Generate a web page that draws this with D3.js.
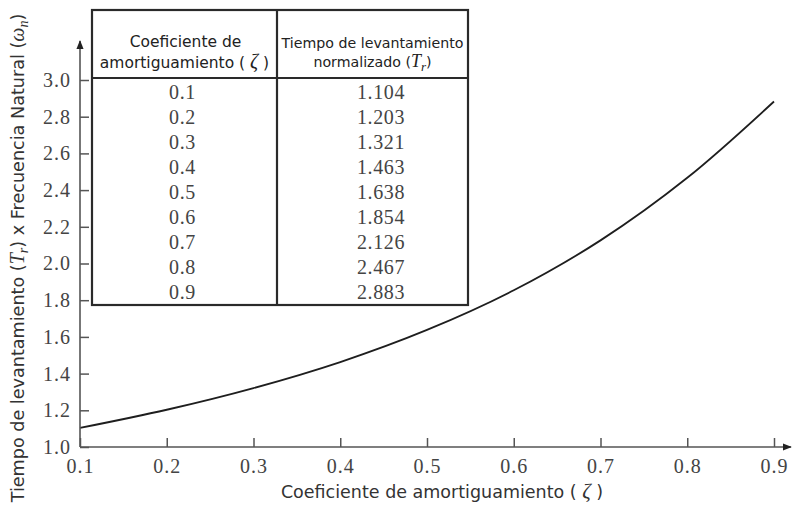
<!DOCTYPE html>
<html>
<head>
<meta charset="utf-8">
<script src="https://cdn.jsdelivr.net/npm/d3@7"></script>
<style>
  html, body { margin: 0; padding: 0; background: #fff; }
  svg { display: block; }
</style>
</head>
<body>
<svg id="chart" width="792" height="509"></svg>
<script>
// Damping ratio and normalized rise time (second-order system)
const zetas = [0.1, 0.2, 0.3, 0.4, 0.5, 0.6, 0.7, 0.8, 0.9];
const riseTimes = [1.104, 1.203, 1.321, 1.463, 1.638, 1.854, 2.126, 2.467, 2.883];
const xTicks = [0.1, 0.2, 0.3, 0.4, 0.5, 0.6, 0.7, 0.8, 0.9];
const yTicks = [1.0, 1.2, 1.4, 1.6, 1.8, 2.0, 2.2, 2.4, 2.6, 2.8, 3.0];

const svg = d3.select("#chart");
const serif = "'Liberation Serif', 'Times New Roman', serif";
const sans = "'DejaVu Sans', Verdana, sans-serif";

const x = d3.scaleLinear().domain([0.1, 0.9]).range([80, 774]);
const y = d3.scaleLinear().domain([1.0, 3.0]).range([447, 80]);

// Arrow marker for axis ends
const defs = svg.append("defs");
defs.append("marker")
  .attr("id", "arrow")
  .attr("viewBox", "0 0 10 10")
  .attr("refX", 9).attr("refY", 5)
  .attr("markerWidth", 9).attr("markerHeight", 9)
  .attr("markerUnits", "userSpaceOnUse")
  .attr("orient", "auto")
  .append("path")
  .attr("d", "M0,1 L10,5 L0,9 Z")
  .attr("fill", "#222");

// Curve
const line = d3.line()
  .x((d, i) => x(zetas[i]))
  .y(d => y(d))
  .curve(d3.curveCatmullRom.alpha(0.5));

svg.append("path")
  .datum(riseTimes)
  .attr("d", line)
  .attr("fill", "none")
  .attr("stroke", "#1e1e1e")
  .attr("stroke-width", 1.8);

// Axes with inward ticks
const xAxis = d3.axisBottom(x).tickValues(xTicks).tickSize(-9).tickPadding(12)
  .tickFormat(d3.format(".1f"));
const yAxis = d3.axisLeft(y).tickValues(yTicks).tickSize(-9).tickPadding(8)
  .tickFormat(d3.format(".1f"));

const gx = svg.append("g").attr("transform", `translate(0,${y(1.0)})`).call(xAxis);
const gy = svg.append("g").attr("transform", `translate(${x(0.1)},0)`).call(yAxis);

[gx, gy].forEach(g => {
  g.select(".domain").remove();
  g.selectAll(".tick line").attr("stroke", "#555").attr("stroke-width", 1.5);
  g.selectAll(".tick text")
    .attr("font-family", serif)
    .attr("font-size", 20)
    .attr("letter-spacing", 1)
    .attr("fill", "#444");
});
gx.selectAll(".tick text").attr("dy", "0.68em");
gy.selectAll(".tick text").attr("dx", "-1");

// Axis lines with arrowheads
svg.append("line")
  .attr("x1", x(0.1)).attr("y1", y(1.0))
  .attr("x2", 791).attr("y2", y(1.0))
  .attr("stroke", "#555").attr("stroke-width", 1.6)
  .attr("marker-end", "url(#arrow)");
svg.append("line")
  .attr("x1", x(0.1)).attr("y1", y(1.0))
  .attr("x2", x(0.1)).attr("y2", 41)
  .attr("stroke", "#555").attr("stroke-width", 1.6)
  .attr("marker-end", "url(#arrow)");

// Axis titles
const xt = svg.append("text")
  .attr("x", 442).attr("y", 498)
  .attr("text-anchor", "middle")
  .attr("font-family", sans).attr("font-size", 17.5).attr("fill", "#333");
xt.append("tspan").text("Coeficiente de amortiguamiento ( ");
xt.append("tspan").attr("font-family", serif).attr("font-style", "italic").attr("font-size", 21).text("ζ");
xt.append("tspan").text(" )");

const yt = svg.append("text")
  .attr("transform", "translate(24,258) rotate(-90)")
  .attr("text-anchor", "middle")
  .attr("font-family", sans).attr("font-size", 17.6).attr("fill", "#333");
yt.append("tspan").text("Tiempo de levantamiento (");
yt.append("tspan").attr("font-family", serif).attr("font-style", "italic").attr("font-size", 20).text("T");
yt.append("tspan").attr("font-family", serif).attr("font-style", "italic").attr("font-size", 14).attr("dy", 4).text("r");
yt.append("tspan").attr("dy", -4).text(") x Frecuencia Natural (");
yt.append("tspan").attr("font-family", serif).attr("font-style", "italic").attr("font-size", 20).text("ω");
yt.append("tspan").attr("font-family", serif).attr("font-style", "italic").attr("font-size", 14).attr("dy", 4).text("n");
yt.append("tspan").attr("dy", -4).text(")");

// Data table
const tbl = { left: 92, mid: 277, right: 468, top: 10, head: 78, bottom: 305 };
const tg = svg.append("g");
tg.append("rect")
  .attr("x", tbl.left).attr("y", tbl.top)
  .attr("width", tbl.right - tbl.left).attr("height", tbl.bottom - tbl.top)
  .attr("fill", "#fff").attr("stroke", "#2a2a2a").attr("stroke-width", 2.2);
tg.append("line")
  .attr("x1", tbl.left).attr("x2", tbl.right).attr("y1", tbl.head).attr("y2", tbl.head)
  .attr("stroke", "#2a2a2a").attr("stroke-width", 2.2);
tg.append("line")
  .attr("x1", tbl.mid).attr("x2", tbl.mid).attr("y1", tbl.top).attr("y2", tbl.bottom)
  .attr("stroke", "#2a2a2a").attr("stroke-width", 2.2);

const leftC = (tbl.left + tbl.mid) / 2;
const rightC = (tbl.mid + tbl.right) / 2;

tg.append("text").attr("x", leftC + 1).attr("y", 47)
  .attr("text-anchor", "middle").attr("font-family", sans).attr("font-size", 15.5).attr("fill", "#222")
  .text("Coeficiente de");
const h2 = tg.append("text").attr("x", leftC).attr("y", 68)
  .attr("text-anchor", "middle").attr("font-family", sans).attr("font-size", 15.5).attr("fill", "#222");
h2.append("tspan").text("amortiguamiento ( ");
h2.append("tspan").attr("font-family", serif).attr("font-style", "italic").attr("font-size", 20).text("ζ");
h2.append("tspan").text(" )");

tg.append("text").attr("x", rightC).attr("y", 48)
  .attr("text-anchor", "middle").attr("font-family", sans).attr("font-size", 14.2).attr("fill", "#222")
  .text("Tiempo de levantamiento");
const h4 = tg.append("text").attr("x", rightC).attr("y", 67)
  .attr("text-anchor", "middle").attr("font-family", sans).attr("font-size", 14.2).attr("fill", "#222");
h4.append("tspan").text("normalizado (");
h4.append("tspan").attr("font-family", serif).attr("font-style", "italic").attr("font-size", 18).text("T");
h4.append("tspan").attr("font-family", serif).attr("font-style", "italic").attr("font-size", 13).attr("dy", 4).text("r");
h4.append("tspan").attr("dy", -4).text(")");

const rowY = d3.scaleLinear().domain([0, 8]).range([92, 292]);
const fmt3 = d3.format(".3f");
tg.selectAll("text.zeta").data(zetas).join("text")
  .attr("class", "zeta")
  .attr("x", leftC - 2).attr("y", (d, i) => rowY(i) + 7)
  .attr("text-anchor", "middle").attr("font-family", serif).attr("font-size", 20)
  .attr("letter-spacing", 0.6).attr("fill", "#444")
  .text(d => d3.format(".1f")(d));
tg.selectAll("text.tr").data(riseTimes).join("text")
  .attr("class", "tr")
  .attr("x", 381).attr("y", (d, i) => rowY(i) + 7)
  .attr("text-anchor", "middle").attr("font-family", serif).attr("font-size", 20)
  .attr("letter-spacing", 0.6).attr("fill", "#444")
  .text(d => fmt3(d));
</script>
</body>
</html>
